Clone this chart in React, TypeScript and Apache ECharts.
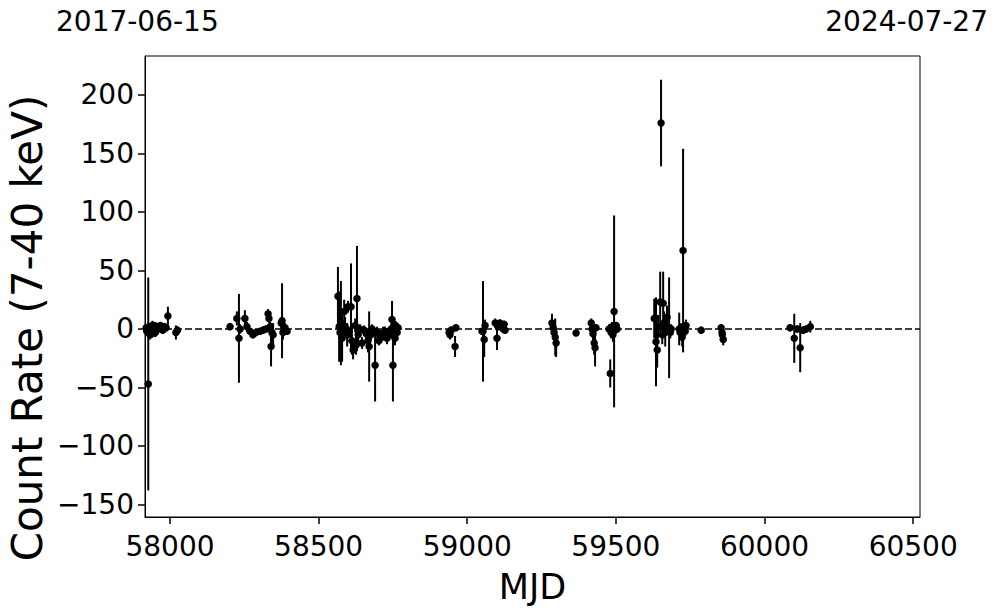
import React, { useEffect, useRef } from "react";
import * as echarts from "echarts";

const mjd = [
  57920, 57922, 57924, 57927, 57929, 57931, 57933, 57935, 57937, 57939, 57941, 57943, 57946, 57948, 57951, 57954, 57957, 57960, 57964, 57968, 57972, 57976, 57981, 57987, 57993, 58020, 58025,
  58202, 58225, 58232, 58236, 58252, 58259, 58269, 58279, 58289, 58303, 58313, 58323, 58330, 58333, 58337, 58340, 58343, 58347, 58374, 58377, 58380, 58387, 58394,
  58565, 58569, 58572, 58575, 58579, 58582, 58586, 58589, 58596, 58599, 58602, 58609, 58612, 58616, 58623, 58626, 58629, 58633, 58639, 58646, 58653, 58660, 58666, 58670, 58676, 58680, 58690, 58697, 58703, 58710, 58717, 58723, 58730, 58737, 58744, 58747, 58750, 58754, 58757, 58764, 58767,
  58939, 58942, 58946, 58959, 58962,
  59050, 59053, 59057, 59060, 59094, 59100, 59104, 59110, 59117, 59121, 59124, 59127,
  59285, 59289, 59292, 59296, 59299, 59366,
  59417, 59420, 59423, 59427, 59430, 59433,
  59477, 59481, 59484, 59487, 59490, 59494, 59497, 59501, 59504,
  59629, 59635, 59639, 59642, 59649, 59652, 59656, 59659, 59662, 59666, 59672, 59679, 59683, 59686,
  59713, 59716, 59720, 59723, 59726, 59730, 59733, 59736, 59787,
  59854, 59857, 59858, 59861,
  60086, 60100, 60110, 60120, 60130, 60140, 60154,
];

const rate = [
  1, -2, -1, -47, -3, 2, -5, -1, 1, -4, 3, -2, 0, 3, -3, 1, 2, 0, 1, 3, 0, -1, 2, 1, 11, -3, -1,
  2, 9, -8, 0, 9, 2, -2, -5, -3, -2, -1, 0, 13, 9, 2, -15, -3, -5, 5, 7, -3, 1, -2,
  28, 2, -3, 5, -8, 0, 15, 2, -5, 19, -2, 19, -10, -18, 3, -14, 26, -5, 0, -12, -1, -4, -10, -15, -5, 0, -31, -3, -10, -6, -4, -2, -8, -5, 0, 8, -31, 4, -8, -3, 1,
  -3, -5, -1, -15, 1,
  -2, -2, -9, 3, 5, -8, 2, 5, 3, 0, 4, -1,
  5, 1, -3, -7, -12, -3.5,
  5, 0, -4, -12, -16, 1,
  0, -38, -3, 2, -5, 15, -1, 3, 0,
  9, -11, -18, 2, 23, 176, -5, 22, 5, -3, 10, 1, -3, 0,
  0, -3, 1, -7, 67, 2, -2, 3, -1,
  1, -3, -5, -9,
  1, -8, 0, -16, -1, 0, 2,
];

const rateErr = [
  3, 4, 3, 91, 4, 3, 4, 3, 3, 3, 4, 3, 3, 3, 4, 3, 3, 3, 3, 3, 3, 3, 3, 3, 8, 6, 3,
  3, 6, 38, 4, 7, 4, 3, 3, 3, 3, 3, 3, 4, 4, 4, 17, 8, 10, 5, 32, 6, 4, 3,
  25, 30, 8, 36, 20, 6, 10, 8, 10, 5, 4, 37, 12, 8, 6, 8, 45, 6, 4, 5, 4, 5, 10, 30, 5, 4, 31, 5, 4, 5, 6, 4, 5, 4, 4, 16, 31, 5, 6, 4, 4,
  4, 4, 3, 9, 3,
  3, 43, 15, 5, 4, 10, 3, 3, 3, 3, 3, 3,
  8, 5, 6, 16, 12, 2,
  4, 4, 6, 10, 16, 3,
  4, 12, 5, 4, 6, 82, 4, 3, 3,
  17, 38, 15, 10, 26, 37, 8, 27, 10, 12, 10, 43, 5, 4,
  14, 6, 4, 8, 87, 4, 4, 5, 2,
  3, 4, 5, 5,
  3, 21, 3, 21, 3, 3, 5,
];

const xTicks = [58000, 58500, 59000, 59500, 60000, 60500];
const yTicks = [-150, -100, -50, 0, 50, 100, 150, 200];
const startLabel = "2017-06-15";
const endLabel = "2024-07-27";
const yTitle = "Count Rate (7-40 keV)";
const xTitle = "MJD";

const FONT = "DejaVu Sans";

export default function App() {
  const ref = useRef<HTMLDivElement>(null);
  useEffect(() => {
    const chart = echarts.init(ref.current!, null, { renderer: "svg" });
    const pts = mjd.map((m, i) => [m, rate[i], rateErr[i]]);
    const fmt = (v: number) => (v < 0 ? "\u2212" + Math.abs(v) : String(v));
    chart.setOption({
      animation: false,
      grid: {
        left: 145,
        top: 56,
        width: 775,
        height: 461,
        show: true,
        borderColor: "#000",
        borderWidth: 1,
        backgroundColor: "#fff",
      },
      graphic: [
        {
          type: "text",
          left: 56,
          top: 7,
          style: { text: startLabel, fontSize: 28, fontFamily: FONT, fill: "#000" },
        },
        {
          type: "text",
          right: 9,
          top: 7,
          style: { text: endLabel, fontSize: 28, fontFamily: FONT, fill: "#000" },
        },
        {
          type: "text",
          x: 27,
          y: 328,
          rotation: Math.PI / 2,
          style: {
            text: yTitle,
            fontSize: 42,
            fontFamily: FONT,
            fill: "#000",
            align: "center",
            verticalAlign: "middle",
          },
        },
      ],
      xAxis: {
        type: "value",
        min: 57916,
        max: 60523,
        name: xTitle,
        nameLocation: "middle",
        nameGap: 52,
        nameTextStyle: { fontSize: 35, fontFamily: FONT, color: "#000" },
        axisLine: { show: true, onZero: false, lineStyle: { color: "#000", width: 1 } },
        axisTick: {
          show: true,
          inside: false,
          length: 7,
          customValues: xTicks,
          lineStyle: { color: "#000", width: 1.5 },
        },
        axisLabel: {
          customValues: xTicks,
          fontSize: 28,
          fontFamily: FONT,
          color: "#000",
          margin: 15,
          formatter: (v: number) => String(v),
        },
        splitLine: { show: false },
      },
      yAxis: {
        type: "value",
        min: -160.7,
        max: 233.3,
        axisLine: { show: true, onZero: false, lineStyle: { color: "#000", width: 1 } },
        axisTick: {
          show: true,
          inside: false,
          length: 7,
          customValues: yTicks,
          lineStyle: { color: "#000", width: 1.5 },
        },
        axisLabel: {
          customValues: yTicks,
          fontSize: 28,
          fontFamily: FONT,
          color: "#000",
          margin: 11,
          formatter: fmt,
        },
        splitLine: { show: false },
      },
      series: [
        {
          type: "custom",
          data: pts,
          renderItem: (params: any, api: any) => {
            const x = api.value(0);
            const y = api.value(1);
            const e = api.value(2);
            const top = api.coord([x, y + e]);
            const bot = api.coord([x, y - e]);
            return {
              type: "line",
              shape: { x1: top[0], y1: top[1], x2: bot[0], y2: bot[1] },
              style: { stroke: "#000", lineWidth: 2 },
            };
          },
          z: 2,
        },
        {
          type: "scatter",
          data: pts.map((p) => [p[0], p[1]]),
          symbol: "circle",
          symbolSize: 7.5,
          itemStyle: { color: "#000", opacity: 1 },
          z: 3,
          markLine: {
            silent: true,
            symbol: "none",
            label: { show: false },
            lineStyle: { color: "#000", type: [7, 3], width: 1.5 },
            data: [{ yAxis: 0 }],
          },
        },
      ],
    });
    return () => chart.dispose();
  }, []);
  return (
    <div
      ref={ref}
      style={{ position: "fixed", left: 0, top: 0, width: 997, height: 613, background: "#fff" }}
    />
  );
}
